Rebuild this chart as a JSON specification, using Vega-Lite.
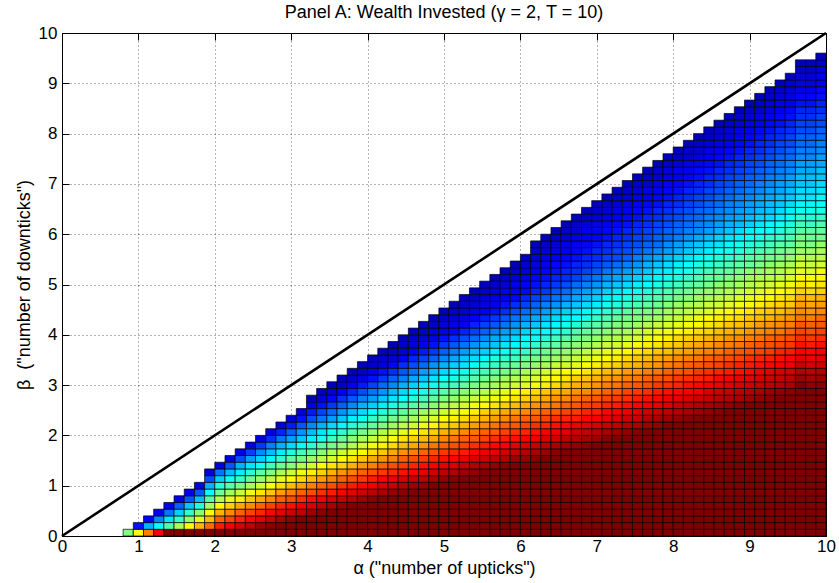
{
"$schema":"https://vega.github.io/schema/vega-lite/v6.json",
"width":764,"height":503,
"autosize":{"type":"none"},
"padding":{"left":62,"top":33,"right":13,"bottom":47},
"background":"white",
"config":{"view":{"stroke":"#000","strokeWidth":1},"font":"Liberation Sans",
"axis":{"labelFont":"Liberation Sans","titleFont":"Liberation Sans","labelFontSize":17,"titleFontSize":18,"labelColor":"#000","titleColor":"#000","titleFontWeight":"normal","domainColor":"#000","tickColor":"#000","tickSize":-7,"labelPadding":6,"labelFlush":false}},
"title":{"text":"Panel A: Wealth Invested (γ = 2, T = 10)","font":"Liberation Sans","fontSize":18,"fontWeight":"normal","color":"#000","anchor":"middle","frame":"group","offset":2},
"datasets":{
"levels":[{"i":1,"b":0,"b2":0.1333},{"i":2,"b":0.1333,"b2":0.2667},{"i":3,"b":0.2667,"b2":0.4},{"i":4,"b":0.4,"b2":0.5333},{"i":5,"b":0.5333,"b2":0.6667},{"i":6,"b":0.6667,"b2":0.8},{"i":7,"b":0.8,"b2":0.9333},{"i":8,"b":0.9333,"b2":1.0667},{"i":9,"b":1.0667,"b2":1.2},{"i":10,"b":1.2,"b2":1.3333},{"i":11,"b":1.3333,"b2":1.4667},{"i":12,"b":1.4667,"b2":1.6},{"i":13,"b":1.6,"b2":1.7333},{"i":14,"b":1.7333,"b2":1.8667},{"i":15,"b":1.8667,"b2":2.0},{"i":16,"b":2.0,"b2":2.1333},{"i":17,"b":2.1333,"b2":2.2667},{"i":18,"b":2.2667,"b2":2.4},{"i":19,"b":2.4,"b2":2.5333},{"i":20,"b":2.5333,"b2":2.6667},{"i":21,"b":2.6667,"b2":2.8},{"i":22,"b":2.8,"b2":2.9333},{"i":23,"b":2.9333,"b2":3.0667},{"i":24,"b":3.0667,"b2":3.2},{"i":25,"b":3.2,"b2":3.3333},{"i":26,"b":3.3333,"b2":3.4667},{"i":27,"b":3.4667,"b2":3.6},{"i":28,"b":3.6,"b2":3.7333},{"i":29,"b":3.7333,"b2":3.8667},{"i":30,"b":3.8667,"b2":4.0},{"i":31,"b":4.0,"b2":4.1333},{"i":32,"b":4.1333,"b2":4.2667},{"i":33,"b":4.2667,"b2":4.4},{"i":34,"b":4.4,"b2":4.5333},{"i":35,"b":4.5333,"b2":4.6667},{"i":36,"b":4.6667,"b2":4.8},{"i":37,"b":4.8,"b2":4.9333},{"i":38,"b":4.9333,"b2":5.0667},{"i":39,"b":5.0667,"b2":5.2},{"i":40,"b":5.2,"b2":5.3333},{"i":41,"b":5.3333,"b2":5.4667},{"i":42,"b":5.4667,"b2":5.6},{"i":43,"b":5.6,"b2":5.7333},{"i":44,"b":5.7333,"b2":5.8667},{"i":45,"b":5.8667,"b2":6.0},{"i":46,"b":6.0,"b2":6.1333},{"i":47,"b":6.1333,"b2":6.2667},{"i":48,"b":6.2667,"b2":6.4},{"i":49,"b":6.4,"b2":6.5333},{"i":50,"b":6.5333,"b2":6.6667},{"i":51,"b":6.6667,"b2":6.8},{"i":52,"b":6.8,"b2":6.9333},{"i":53,"b":6.9333,"b2":7.0667},{"i":54,"b":7.0667,"b2":7.2},{"i":55,"b":7.2,"b2":7.3333},{"i":56,"b":7.3333,"b2":7.4667},{"i":57,"b":7.4667,"b2":7.6},{"i":58,"b":7.6,"b2":7.7333},{"i":59,"b":7.7333,"b2":7.8667},{"i":60,"b":7.8667,"b2":8.0},{"i":61,"b":8.0,"b2":8.1333},{"i":62,"b":8.1333,"b2":8.2667},{"i":63,"b":8.2667,"b2":8.4},{"i":64,"b":8.4,"b2":8.5333},{"i":65,"b":8.5333,"b2":8.6667},{"i":66,"b":8.6667,"b2":8.8},{"i":67,"b":8.8,"b2":8.9333},{"i":68,"b":8.9333,"b2":9.0667},{"i":69,"b":9.0667,"b2":9.2},{"i":70,"b":9.2,"b2":9.3333},{"i":71,"b":9.3333,"b2":9.4667},{"i":72,"b":9.4667,"b2":9.6}],
"cols":[
{"a":0.8,"a2":0.9333,"v":[50]},
{"a":0.9333,"a2":1.0667,"v":[62,14]},
{"a":1.0667,"a2":1.2,"v":[75,30,12]},
{"a":1.2,"a2":1.3333,"v":[88,38,26,11]},
{"a":1.3333,"a2":1.4667,"v":[100,46,35,24,11]},
{"a":1.4667,"a2":1.6,"v":[100,54,43,33,22,10]},
{"a":1.6,"a2":1.7333,"v":[100,62,52,42,32,21,10]},
{"a":1.7333,"a2":1.8667,"v":[100,70,60,51,41,31,21,10]},
{"a":1.8667,"a2":2.0,"v":[100,77,69,62,54,46,38,30,20,8]},
{"a":2.0,"a2":2.1333,"v":[100,85,78,70,63,55,48,41,33,24,9]},
{"a":2.1333,"a2":2.2667,"v":[100,88,81,74,67,60,53,46,39,31,21,9]},
{"a":2.2667,"a2":2.4,"v":[100,91,84,78,71,64,57,50,43,36,30,20,9]},
{"a":2.4,"a2":2.5333,"v":[100,94,87,81,74,68,61,54,48,41,35,28,19,9]},
{"a":2.5333,"a2":2.6667,"v":[100,97,90,84,78,71,65,58,52,46,39,33,26,18,9]},
{"a":2.6667,"a2":2.8,"v":[100,99,93,87,81,74,68,62,56,50,44,37,31,25,17,9]},
{"a":2.8,"a2":2.9333,"v":[100,100,96,90,84,78,72,66,60,54,48,42,36,30,24,16,8]},
{"a":2.9333,"a2":3.0667,"v":[100,100,98,92,86,80,75,69,63,57,51,46,40,34,28,22,15,8]},
{"a":3.0667,"a2":3.2,"v":[100,100,100,94,89,83,78,72,66,61,55,49,44,38,32,27,21,14,8]},
{"a":3.2,"a2":3.3333,"v":[100,100,100,97,91,86,80,75,69,64,58,53,47,42,36,31,26,20,15,9,5]},
{"a":3.3333,"a2":3.4667,"v":[100,100,100,99,94,88,83,78,72,67,62,56,51,46,40,35,30,24,19,14,8,5]},
{"a":3.4667,"a2":3.6,"v":[100,100,100,100,96,91,85,80,75,70,65,59,54,49,44,39,34,28,23,18,13,8,5]},
{"a":3.6,"a2":3.7333,"v":[100,100,100,100,98,93,88,83,78,73,67,62,57,52,47,42,37,32,27,22,17,12,7,5]},
{"a":3.7333,"a2":3.8667,"v":[100,100,100,100,100,95,90,85,80,75,70,65,60,55,51,46,41,36,31,26,21,16,11,7,5]},
{"a":3.8667,"a2":4.0,"v":[100,100,100,100,100,97,92,87,82,78,73,68,63,58,54,49,44,39,34,30,25,20,15,10,7,5]},
{"a":4.0,"a2":4.1333,"v":[100,100,100,100,100,99,94,89,85,80,75,71,66,61,57,52,47,43,38,33,28,24,19,14,10,7,5]},
{"a":4.1333,"a2":4.2667,"v":[100,100,100,100,100,100,96,91,87,82,78,73,68,64,59,55,50,46,41,36,32,27,23,18,14,9,7,5]},
{"a":4.2667,"a2":4.4,"v":[100,100,100,100,100,100,98,93,89,84,80,75,71,66,62,58,53,49,44,40,35,31,26,22,17,13,8,7,5]},
{"a":4.4,"a2":4.5333,"v":[100,100,100,100,100,100,99,95,91,86,82,78,73,69,65,60,56,51,47,43,38,34,30,25,21,17,12,8,7,5]},
{"a":4.5333,"a2":4.6667,"v":[100,100,100,100,100,100,100,97,93,88,84,80,75,71,67,63,58,54,50,46,41,37,33,29,24,20,16,12,8,7,5]},
{"a":4.6667,"a2":4.8,"v":[100,100,100,100,100,100,100,98,94,90,86,82,78,73,69,65,61,57,53,48,44,40,36,32,28,23,19,15,11,8,7,5]},
{"a":4.8,"a2":4.9333,"v":[100,100,100,100,100,100,100,100,96,92,88,84,80,76,71,67,63,59,55,51,47,43,39,35,31,27,22,18,14,10,8,7,5]},
{"a":4.9333,"a2":5.0667,"v":[100,100,100,100,100,100,100,100,98,94,90,86,82,78,74,70,66,62,58,54,50,46,42,38,34,30,26,22,18,14,10,8,7,5]},
{"a":5.0667,"a2":5.2,"v":[100,100,100,100,100,100,100,100,99,95,91,87,84,80,76,72,68,64,60,56,52,48,44,40,37,33,29,25,21,17,13,10,8,7,5]},
{"a":5.2,"a2":5.3333,"v":[100,100,100,100,100,100,100,100,100,97,93,89,85,81,78,74,70,66,62,58,55,51,47,43,39,35,32,28,24,20,16,12,10,8,7,5]},
{"a":5.3333,"a2":5.4667,"v":[100,100,100,100,100,100,100,100,100,98,95,91,87,83,79,76,72,68,64,61,57,53,49,46,42,38,34,31,27,23,19,16,12,10,8,7,5]},
{"a":5.4667,"a2":5.6,"v":[100,100,100,100,100,100,100,100,100,100,96,92,89,85,81,78,74,70,67,63,59,55,52,48,44,41,37,33,30,26,22,19,15,11,10,8,7,5]},
{"a":5.6,"a2":5.7333,"v":[100,100,100,100,100,100,100,100,100,100,98,94,90,87,83,79,76,72,69,65,61,58,54,50,47,43,40,36,32,29,25,21,18,14,11,10,8,7,5]},
{"a":5.7333,"a2":5.8667,"v":[100,100,100,100,100,100,100,100,100,100,99,95,92,88,85,81,78,74,71,67,63,60,56,53,49,46,42,39,35,31,28,24,21,17,14,11,10,8,7,5]},
{"a":5.8667,"a2":6.0,"v":[100,100,100,100,100,100,100,100,100,100,100,97,93,90,86,83,79,76,72,69,65,62,58,55,51,48,44,41,37,34,30,27,24,20,17,13,11,10,8,7,5]},
{"a":6.0,"a2":6.1333,"v":[100,100,100,100,100,100,100,100,100,100,100,98,95,91,88,84,81,78,74,71,67,64,60,57,54,50,47,43,40,37,33,30,26,23,19,16,13,11,10,8,7,5]},
{"a":6.1333,"a2":6.2667,"v":[100,100,100,100,100,100,100,100,100,100,100,99,96,93,89,86,83,79,76,73,69,66,62,59,56,52,49,46,42,39,36,32,29,25,22,19,16,14,13,11,10,8,7,5]},
{"a":6.2667,"a2":6.4,"v":[100,100,100,100,100,100,100,100,100,100,100,100,97,94,91,88,84,81,78,74,71,68,64,61,58,54,51,48,45,41,38,35,31,28,25,21,18,16,14,13,11,10,8,7,5]},
{"a":6.4,"a2":6.5333,"v":[100,100,100,100,100,100,100,100,100,100,100,100,99,96,92,89,86,83,79,76,73,70,66,63,60,57,53,50,47,44,40,37,34,31,27,24,21,18,16,14,13,11,10,8,7,5]},
{"a":6.5333,"a2":6.6667,"v":[100,100,100,100,100,100,100,100,100,100,100,100,100,97,94,90,87,84,81,78,74,71,68,65,62,58,55,52,49,46,42,39,36,33,30,26,23,20,17,16,14,13,11,10,8,7,5]},
{"a":6.6667,"a2":6.8,"v":[100,100,100,100,100,100,100,100,100,100,100,100,100,98,95,92,89,85,82,79,76,73,70,67,63,60,57,54,51,48,45,41,38,35,32,29,26,23,19,17,16,14,13,11,10,8,7,5]},
{"a":6.8,"a2":6.9333,"v":[100,100,100,100,100,100,100,100,100,100,100,100,100,99,96,93,90,87,84,81,78,74,71,68,65,62,59,56,53,50,47,44,40,37,34,31,28,25,22,19,17,16,14,13,11,10,8,7,5]},
{"a":6.9333,"a2":7.0667,"v":[100,100,100,100,100,100,100,100,100,100,100,100,100,100,97,94,91,88,85,82,79,76,73,70,67,64,61,58,55,52,49,46,43,40,36,33,30,27,24,21,19,17,16,14,13,11,10,8,7,5]},
{"a":7.0667,"a2":7.2,"v":[100,100,100,100,100,100,100,100,100,100,100,100,100,100,99,96,93,90,87,84,81,78,75,72,69,66,63,60,57,54,51,48,45,42,39,36,33,30,27,24,21,19,17,16,14,13,11,10,8,7,5]},
{"a":7.2,"a2":7.3333,"v":[100,100,100,100,100,100,100,100,100,100,100,100,100,100,100,97,94,91,88,85,82,79,76,73,70,67,64,61,58,55,53,50,47,44,41,38,35,32,29,26,23,20,19,17,16,14,13,11,10,8,7,5]},
{"a":7.3333,"a2":7.4667,"v":[100,100,100,100,100,100,100,100,100,100,100,100,100,100,100,98,95,92,89,86,83,81,78,75,72,69,66,63,60,57,54,51,49,46,43,40,37,34,31,28,25,22,20,19,17,16,14,13,11,10,8,7,5]},
{"a":7.4667,"a2":7.6,"v":[100,100,100,100,100,100,100,100,100,100,100,100,100,100,100,99,96,93,91,88,85,82,79,76,73,70,68,65,62,59,56,53,50,48,45,42,39,36,33,30,27,25,22,20,19,17,16,14,13,11,10,8,7,5]},
{"a":7.6,"a2":7.7333,"v":[100,100,100,100,100,100,100,100,100,100,100,100,100,100,100,100,97,95,92,89,86,83,80,78,75,72,69,66,64,61,58,55,52,49,47,44,41,38,35,32,30,27,24,22,20,19,17,16,14,13,11,10,8,7,5]},
{"a":7.7333,"a2":7.8667,"v":[100,100,100,100,100,100,100,100,100,100,100,100,100,100,100,100,98,96,93,90,87,85,82,79,76,73,71,68,65,62,60,57,54,51,48,46,43,40,37,35,32,29,26,23,22,20,19,17,16,14,13,11,10,8,7,5]},
{"a":7.8667,"a2":8.0,"v":[100,100,100,100,100,100,100,100,100,100,100,100,100,100,100,100,100,97,94,91,89,86,83,80,78,75,72,69,67,64,61,58,56,53,50,47,45,42,39,36,34,31,28,26,23,22,20,19,17,16,14,13,11,10,8,7,5]},
{"a":8.0,"a2":8.1333,"v":[100,100,100,100,100,100,100,100,100,100,100,100,100,100,100,100,100,98,95,93,90,87,84,82,79,76,74,71,68,66,63,60,57,55,52,49,47,44,41,38,36,33,30,28,25,23,22,20,19,17,16,14,13,11,10,8,7,5]},
{"a":8.1333,"a2":8.2667,"v":[100,100,100,100,100,100,100,100,100,100,100,100,100,100,100,100,100,99,96,94,91,88,86,83,80,78,75,72,70,67,64,62,59,56,54,51,48,46,43,40,38,35,32,30,27,25,23,22,20,19,17,16,14,13,11,10,8,7,5]},
{"a":8.2667,"a2":8.4,"v":[100,100,100,100,100,100,100,100,100,100,100,100,100,100,100,100,100,100,97,95,92,89,87,84,82,79,76,74,71,68,66,63,61,58,55,53,50,47,45,42,40,37,34,32,29,26,25,23,22,20,19,17,16,14,13,11,10,8,7,5]},
{"a":8.4,"a2":8.5333,"v":[100,100,100,100,100,100,100,100,100,100,100,100,100,100,100,100,100,100,98,96,93,91,88,85,83,80,78,75,72,70,67,65,62,59,57,54,52,49,47,44,41,39,36,34,31,28,26,25,23,22,20,19,17,16,14,13,11,10,8,7,5]},
{"a":8.5333,"a2":8.6667,"v":[100,100,100,100,100,100,100,100,100,100,100,100,100,100,100,100,100,100,99,97,94,92,89,87,84,81,79,76,74,71,69,66,64,61,58,56,53,51,48,46,43,41,38,35,33,30,28,26,25,23,22,20,19,17,16,14,13,11,10,8,7,5]},
{"a":8.6667,"a2":8.8,"v":[100,100,100,100,100,100,100,100,100,100,100,100,100,100,100,100,100,100,100,98,95,93,90,88,85,83,80,78,75,73,70,68,65,62,60,57,55,52,50,47,45,42,40,37,35,32,30,28,26,25,23,22,20,19,17,16,14,13,11,10,8,7,5]},
{"a":8.8,"a2":8.9333,"v":[100,100,100,100,100,100,100,100,100,100,100,100,100,100,100,100,100,100,100,99,96,94,91,89,86,84,81,79,76,74,71,69,66,64,61,59,56,54,51,49,46,44,41,39,36,34,31,29,28,26,25,23,22,20,19,17,16,14,13,11,10,8,7,5]},
{"a":8.9333,"a2":9.0667,"v":[100,100,100,100,100,100,100,100,100,100,100,100,100,100,100,100,100,100,100,100,97,95,92,90,87,85,83,80,78,75,73,70,68,65,63,60,58,55,53,51,48,46,43,41,38,36,33,31,29,28,26,25,23,22,20,19,17,16,14,13,11,10,8,7,5]},
{"a":9.0667,"a2":9.2,"v":[100,100,100,100,100,100,100,100,100,100,100,100,100,100,100,100,100,100,100,100,98,96,93,91,89,86,84,81,79,76,74,72,69,67,64,62,59,57,55,52,50,47,45,42,40,38,35,33,31,29,28,26,25,23,22,20,19,17,16,14,13,11,10,8,7,5]},
{"a":9.2,"a2":9.3333,"v":[100,100,100,100,100,100,100,100,100,100,100,100,100,100,100,100,100,100,100,100,99,97,94,92,90,87,85,82,80,78,75,73,70,68,66,63,61,58,56,54,51,49,46,44,42,39,37,34,32,31,29,28,26,25,23,22,20,19,17,16,14,13,11,10,8,7,5]},
{"a":9.3333,"a2":9.4667,"v":[100,100,100,100,100,100,100,100,100,100,100,100,100,100,100,100,100,100,100,100,100,98,95,93,91,88,86,84,81,79,76,74,72,69,67,65,62,60,57,55,53,50,48,46,43,41,39,36,34,32,31,29,28,26,25,23,22,20,19,17,16,14,13,11,10,8,7,5]},
{"a":9.4667,"a2":9.6,"v":[100,100,100,100,100,100,100,100,100,100,100,100,100,100,100,100,100,100,100,100,100,99,96,94,92,89,87,85,82,80,78,75,73,71,68,66,64,61,59,57,54,52,50,47,45,43,40,38,36,34,32,31,29,28,26,25,23,22,20,19,17,16,14,13,11,10,8,7,5]},
{"a":9.6,"a2":9.7333,"v":[100,100,100,100,100,100,100,100,100,100,100,100,100,100,100,100,100,100,100,100,100,100,100,97,95,93,90,88,86,83,81,79,76,74,72,70,67,65,63,60,58,56,53,51,49,46,44,42,39,37,35,34,32,31,29,28,26,25,23,22,20,19,17,16,14,13,11,10,8,7,5]},
{"a":9.7333,"a2":9.8667,"v":[100,100,100,100,100,100,100,100,100,100,100,100,100,100,100,100,100,100,100,100,100,100,98,96,94,91,89,87,85,82,80,78,75,73,71,69,66,64,62,59,57,55,53,50,48,46,43,41,39,37,35,34,32,31,29,28,26,25,23,22,20,19,17,16,14,13,11,10,8,7,5]},
{"a":9.8667,"a2":10.0,"v":[100,100,100,100,100,100,100,100,100,100,100,100,100,100,100,100,100,100,100,100,100,100,99,97,95,92,90,88,86,83,81,79,77,74,72,70,67,65,63,61,58,56,54,52,49,47,45,43,40,38,37,35,34,32,31,29,28,26,25,23,22,20,19,17,16,14,13,11,10,8,7,5]}
]},
"layer":[
{"data":{"name":"cols"},
"transform":[{"flatten":["v"]},{"window":[{"op":"row_number","as":"i"}],"groupby":["a"]},{"lookup":"i","from":{"data":{"name":"levels"},"key":"i","fields":["b","b2"]}}],
"mark":{"type":"rect","stroke":"#000","strokeWidth":0.7},
"encoding":{
"x":{"field":"a","type":"quantitative","scale":{"domain":[0,10],"nice":false,"zero":false},"axis":{"orient":"bottom","values":[0,1,2,3,4,5,6,7,8,9,10],"title":"α (\"number of upticks\")","grid":true,"gridDash":[1,3],"gridColor":"#000","gridOpacity":0.6,"labelPadding":9,"titlePadding":5}},
"x2":{"field":"a2"},
"y":{"field":"b","type":"quantitative","scale":{"domain":[0,10],"nice":false,"zero":false},"axis":{"orient":"left","values":[0,1,2,3,4,5,6,7,8,9,10],"title":"β\u00a0 (\"number of downticks\")","grid":true,"gridDash":[1,3],"gridColor":"#000","gridOpacity":0.6,"labelPadding":12,"titlePadding":5}},
"y2":{"field":"b2"},
"color":{"field":"v","type":"quantitative","scale":{"domain":[0,12.5,37.5,62.5,87.5,100],"range":["#00008f","#0000ff","#00ffff","#ffff00","#ff0000","#800000"],"interpolate":"rgb","clamp":true},"legend":null}
}},
{"data":{"values":[{"a":0,"b":0},{"a":10,"b":10}]},
"mark":{"type":"line","color":"#000","strokeWidth":2.6},
"encoding":{
"x":{"field":"a","type":"quantitative","axis":{"orient":"top","values":[0,1,2,3,4,5,6,7,8,9,10],"labels":false,"title":null,"grid":false,"minExtent":0,"maxExtent":0}},
"y":{"field":"b","type":"quantitative","axis":{"orient":"right","values":[0,1,2,3,4,5,6,7,8,9,10],"labels":false,"title":null,"grid":false,"minExtent":0,"maxExtent":0}}
}}
]
}
